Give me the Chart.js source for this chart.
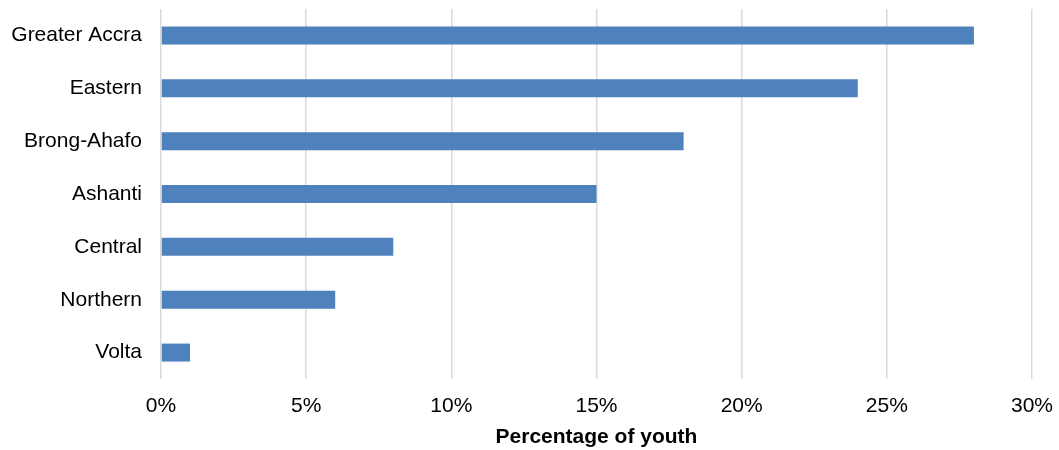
<!DOCTYPE html>
<html>
<head>
<meta charset="utf-8">
<script src="https://cdn.jsdelivr.net/npm/chart.js@4/dist/chart.umd.min.js"></script>
<style>
  html, body { margin: 0; padding: 0; background: #fff; }
  #wrap { width: 1059px; height: 450px; }
</style>
</head>
<body>
<div id="wrap"><canvas id="chart"></canvas></div>
<script>
const regions = ["Greater Accra", "Eastern", "Brong-Ahafo", "Ashanti", "Central", "Northern", "Volta"];
const youthShare = [28, 24, 18, 15, 8, 6, 1];
const xTicks = [0, 5, 10, 15, 20, 25, 30];

const chart = document.getElementById("chart");
const font = "'Liberation Sans', Arial, sans-serif";

function showChart() {
  new Chart(chart, {
    type: "bar",
    data: {
      labels: regions,
      datasets: [
        {
          label: "Percentage of youth",
          data: youthShare,
          backgroundColor: "#4F81BD",
          borderWidth: 0,
          barPercentage: 0.34,
          categoryPercentage: 1,
        },
      ],
    },
    options: {
      indexAxis: "y",
      responsive: true,
      maintainAspectRatio: false,
      animation: false,
      layout: { padding: { top: 9, right: 27, left: 0, bottom: 0 } },
      plugins: {
        legend: { display: false },
        tooltip: { enabled: false },
      },
      scales: {
        x: {
          min: 0,
          max: 30,
          afterBuildTicks: (scale) => {
            scale.ticks = xTicks.map((v) => ({ value: v }));
          },
          afterFit: (scale) => {
            scale.height = 71;
            scale.paddingLeft = 0;
            scale.paddingRight = 0;
          },
          grid: { color: "#d9d9d9", lineWidth: 1.5, drawTicks: false },
          border: { display: false },
          ticks: {
            color: "#000",
            padding: 15,
            font: { family: font, size: 21 },
            callback: (v) => v + "%",
          },
          title: {
            display: true,
            text: "Percentage of youth",
            color: "#000",
            padding: { top: 0, bottom: 0 },
            font: { family: font, size: 21, weight: "bold" },
          },
        },
        y: {
          afterFit: (scale) => {
            scale.width = 161;
            scale.paddingTop = 0;
            scale.paddingBottom = 0;
          },
          grid: { display: false, drawTicks: false },
          border: { display: false },
          ticks: {
            color: "#000",
            padding: 19,
            font: { family: font, size: 21 },
          },
        },
      },
    },
  });
}

window.addEventListener("load", showChart);
</script>
</body>
</html>
